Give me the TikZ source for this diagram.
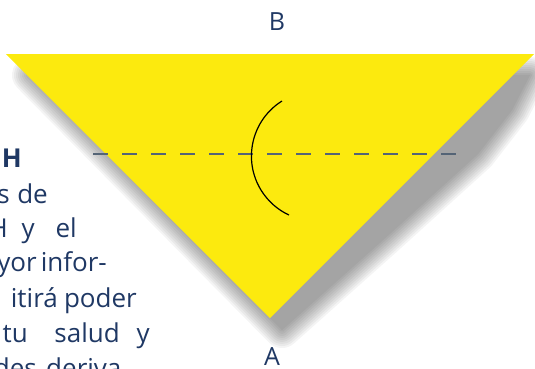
\documentclass[tikz,border=0pt]{standalone}
\usepackage{fontspec}
\setmainfont{Open Sans}
\definecolor{navy}{RGB}{31,56,100}
\definecolor{tri}{RGB}{252,234,14}
\definecolor{dashc}{RGB}{84,100,118}
\begin{document}
\begin{tikzpicture}[x=1pt,y=-1pt,
  txt/.style={anchor=base east, inner sep=0pt, text=navy, font=\fontsize{26}{30}\selectfont},
  lbl/.style={anchor=base, inner sep=0pt, text=navy, font=\fontsize{25}{30}\selectfont},
  dashline/.style={draw=dashc, line width=1.5pt, dash pattern=on 15pt off 14pt},
  arcline/.style={draw=black, line width=1.2pt}]
\useasboundingbox (0,0) rectangle (535,368);
% text (cut at the left edge)
\node[txt, font=\fontsize{26}{30}\selectfont\bfseries] (w1) at (22,167) {IH};
\node[txt] (w2) at (10,203) {s};
\node[txt] (w3) at (48,203) {de};
\node[txt] (w4) at (8,237) {H};
\node[txt] (w5) at (35,237) {y};
\node[txt] (w6) at (77,237) {el};
\node[txt] (w7) at (37,271) {yor};
\node[txt] (w8) at (107,271) {infor-};
\node[txt] (w9) at (58,307) {itirá};
\node[txt] (w10) at (137,307) {poder};
\node[txt] (w11) at (28,342) {tu};
\node[txt] (w12) at (120,342) {salud};
\node[txt] (w13) at (150,342) {y};
\node[txt] (w14) at (37,377) {des};
\node[txt] (w15) at (130,377) {deriva-};
% triangle and shadow
\coordinate (TL) at (6,54);
\coordinate (TR) at (534,54);
\coordinate (A0) at (270,318);
\coordinate (s1) at (30,75);
\coordinate (s2) at (530,75);
\coordinate (s3) at (512,110);
\coordinate (s4) at (478,154);
\coordinate (s5) at (383,240);
\coordinate (s6) at (282,330);
\foreach \w in {36,32,28,24,20,16,12,8,4,0.1}{
  \begin{scope}[transparency group, opacity=0.045]
    \filldraw[black, line width=\w pt, line join=round] (s1) -- (s2) -- (s3) -- (s4) -- (s5) -- (s6) -- cycle;
  \end{scope}
}
\fill[tri] (TL) -- (TR) -- (A0) -- cycle;
% dashed line
\coordinate (d1) at (93,154);
\coordinate (d2) at (456,154);
\draw[dashline] (d1) -- (d2);
% arc
\coordinate (arcS) at (282,101);
\draw[arcline] (arcS) arc[start angle=-122, end angle=-245, radius=65];
% labels
\node[lbl] (B) at (277,30) {B};
\node[lbl] (A) at (272,365) {A};
\end{tikzpicture}
\end{document}
